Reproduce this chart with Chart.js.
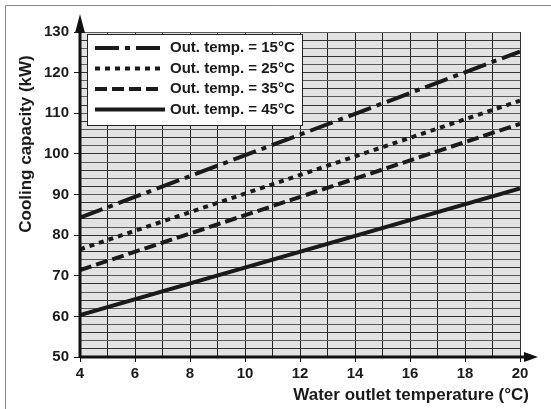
<!DOCTYPE html>
<html>
<head>
<meta charset="utf-8">
<script src="https://cdn.jsdelivr.net/npm/chart.js@4"></script>
<style>
  html, body { margin: 0; padding: 0; background: #fff; }
  #wrap { width: 551px; height: 409px; position: relative; }
</style>
</head>
<body>
<div id="wrap"><canvas id="chart" width="551" height="409"></canvas></div>
<script>
// water outlet temperature (°C)
const waterTemps = [4, 20];
// cooling capacity (kW) per outdoor temperature
const cap15 = [84.3, 125.2];
const cap25 = [76.5, 113.1];
const cap35 = [71.4, 107.4];
const cap45 = [60.3, 91.5];
const seriesLabels = ["Out. temp. = 15°C", "Out. temp. = 25°C", "Out. temp. = 35°C", "Out. temp. = 45°C"];
const xTickLabels = [4, 6, 8, 10, 12, 14, 16, 18, 20];
const yTickLabels = [50, 60, 70, 80, 90, 100, 110, 120, 130];

const FONT = "'Liberation Sans', Arial, sans-serif";

function pts(ys) {
    return waterTemps.map((x, i) => ({ x: x, y: ys[i] }));
}

function lineSet(label, ys, dash) {
    return {
        label: label,
        data: pts(ys),
        borderColor: "#1a1a1a",
        borderWidth: 4,
        borderDash: dash,
        borderCapStyle: "butt",
        pointRadius: 0,
        fill: false
    };
}

// grey plot background + frame, arrows, titles, legend
const decor = {
    id: "decor",
    beforeDraw(chart) {
        const { ctx, chartArea: a } = chart;
        ctx.save();
        ctx.fillStyle = "#e2e2e2";
        ctx.fillRect(a.left, a.top, a.right - a.left, a.bottom - a.top);
        // outer frame (top and left)
        ctx.strokeStyle = "#888";
        ctx.lineWidth = 1;
        ctx.beginPath();
        ctx.moveTo(5.5, 409);
        ctx.lineTo(5.5, 5.5);
        ctx.lineTo(551, 5.5);
        ctx.stroke();
        ctx.restore();
    },
    afterDraw(chart) {
        const { ctx, chartArea: a } = chart;
        ctx.save();
        // right edge of plot
        ctx.strokeStyle = "#333";
        ctx.lineWidth = 1;
        ctx.beginPath();
        ctx.moveTo(a.right + 0.5, a.top);
        ctx.lineTo(a.right + 0.5, a.bottom);
        ctx.stroke();

        // axes with arrows
        ctx.strokeStyle = "#111";
        ctx.fillStyle = "#111";
        ctx.lineWidth = 3;
        ctx.beginPath();
        ctx.moveTo(a.left, a.bottom);
        ctx.lineTo(a.left, a.top - 4);
        ctx.moveTo(a.left, a.bottom);
        ctx.lineTo(a.right + 6, a.bottom);
        ctx.stroke();
        ctx.beginPath();
        ctx.moveTo(a.left, 14);
        ctx.lineTo(a.left - 5, a.top + 1);
        ctx.lineTo(a.left + 5, a.top + 1);
        ctx.closePath();
        ctx.fill();
        ctx.beginPath();
        ctx.moveTo(538, a.bottom);
        ctx.lineTo(a.right + 4, a.bottom - 5);
        ctx.lineTo(a.right + 4, a.bottom + 5);
        ctx.closePath();
        ctx.fill();

        // axis titles
        ctx.fillStyle = "#1a1a1a";
        ctx.font = "bold 17px " + FONT;
        ctx.textAlign = "right";
        ctx.textBaseline = "middle";
        ctx.fillText("Water outlet temperature (°C)", 529, 395);
        ctx.save();
        ctx.translate(26, 144);
        ctx.rotate(-Math.PI / 2);
        ctx.textAlign = "center";
        ctx.fillText("Cooling capacity (kW)", 0, 0);
        ctx.restore();

        // legend box
        const bx = 87, by = 34, bw = 215, bh = 91;
        ctx.fillStyle = "#fff";
        ctx.fillRect(bx, by, bw, bh);
        ctx.strokeStyle = "#222";
        ctx.lineWidth = 1;
        ctx.strokeRect(bx + 0.5, by + 0.5, bw, bh);
        ctx.font = "bold 15px " + FONT;
        ctx.textAlign = "left";
        chart.data.datasets.forEach((ds, i) => {
            const y = 48 + i * 20.5;
            ctx.strokeStyle = "#1a1a1a";
            ctx.lineWidth = 4;
            ctx.lineCap = "butt";
            ctx.setLineDash(ds.borderDash || []);
            ctx.beginPath();
            ctx.moveTo(95, y);
            ctx.lineTo(i === 3 ? 165 : 160, y);
            ctx.stroke();
            ctx.setLineDash([]);
            ctx.fillStyle = "#1a1a1a";
            ctx.fillText(ds.label, 170, y);
        });
        ctx.restore();
    }
};

new Chart(document.getElementById("chart"), {
    type: "line",
    data: {
        datasets: [
            lineSet(seriesLabels[0], cap15, [24, 6, 5, 6]),
            lineSet(seriesLabels[1], cap25, [5, 5]),
            lineSet(seriesLabels[2], cap35, [12, 5]),
            lineSet(seriesLabels[3], cap45, [])
        ]
    },
    options: {
        responsive: false,
        animation: false,
        layout: { padding: { left: 0, top: 32, right: 31, bottom: 0 } },
        plugins: { legend: { display: false }, tooltip: { enabled: false } },
        scales: {
            x: {
                type: "linear",
                min: 4,
                max: 20,
                afterFit(scale) { scale.height = 52; },
                afterBuildTicks(scale) {
                    const t = [];
                    for (let v = 4; v <= 20; v++) t.push({ value: v });
                    scale.ticks = t;
                },
                ticks: {
                    autoSkip: false,
                    maxRotation: 0,
                    padding: 3,
                    color: "#1a1a1a",
                    font: { family: FONT, size: 15, weight: "bold" },
                    callback: v => xTickLabels.includes(v) ? String(v) : ""
                },
                grid: {
                    color: "#222",
                    lineWidth: 1,
                    tickLength: 5,
                    tickColor: c => (c.tick && xTickLabels.includes(c.tick.value)) ? "#111" : "rgba(0,0,0,0)"
                },
                border: { display: false }
            },
            y: {
                type: "linear",
                min: 50,
                max: 130,
                afterFit(scale) { scale.width = 80; },
                afterBuildTicks(scale) {
                    const t = [];
                    for (let v = 50; v <= 130; v += 2) t.push({ value: v });
                    scale.ticks = t;
                },
                ticks: {
                    autoSkip: false,
                    padding: 5,
                    color: "#1a1a1a",
                    font: { family: FONT, size: 15, weight: "bold" },
                    callback: v => yTickLabels.includes(v) ? String(v) : ""
                },
                grid: {
                    color: c => (c.tick && c.tick.value % 4 === 0) ? "#333" : "#5a5a5a",
                    lineWidth: 1,
                    tickLength: 6,
                    tickColor: c => (c.tick && yTickLabels.includes(c.tick.value)) ? "#111" : "rgba(0,0,0,0)"
                },
                border: { display: false }
            }
        }
    },
    plugins: [decor]
});
</script>
</body>
</html>
